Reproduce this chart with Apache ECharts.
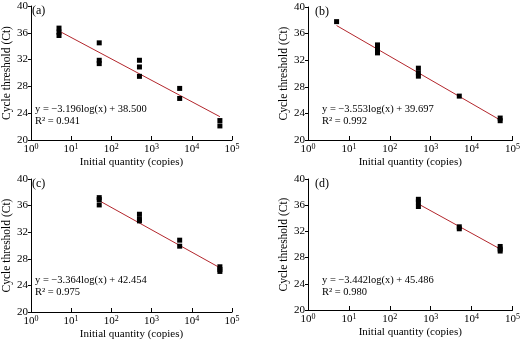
<!DOCTYPE html>
<html><head><meta charset="utf-8">
<script src="https://cdn.jsdelivr.net/npm/echarts@6/dist/echarts.min.js"></script>
<style>html,body{margin:0;padding:0;background:#fff}#c{width:523px;height:341px}</style>
</head><body><div id="c"></div>
<script>
// Data
var xTickLabels = ['10^0','10^1','10^2','10^3','10^4','10^5'];
var yTicks = [20, 24, 28, 32, 36, 40];
var ptsA = [[5,36.7],[5,36.1],[5,35.6],[50,34.5],[50,31.9],[50,31.4],[500,31.9],[500,30.9],[500,29.5],[5000,27.7],[5000,26.2],[50000,22.9],[50000,22.1]];
var ptsB = [[5,37.8],[50,34.3],[50,33.7],[50,33.1],[500,30.8],[500,30.1],[500,29.6],[5000,26.6],[50000,23.3],[50000,22.9]];
var ptsC = [[50,37.2],[50,36.9],[50,36.1],[500,34.7],[500,34.0],[500,33.7],[5000,30.8],[5000,29.9],[50000,26.8],[50000,26.4],[50000,26.1]];
var ptsD = [[500,36.9],[500,36.5],[500,35.8],[5000,32.7],[5000,32.4],[50000,29.7],[50000,29.3],[50000,29.0]];
var fitA = [[5,36.27],[50000,23.48]];
var fitB = [[5,37.21],[50000,23.00]];
var fitC = [[50,36.74],[50000,26.65]];
var fitD = [[500,36.19],[50000,29.31]];
var eqs = [
  ['y = \u22123.196log(x) + 38.500','R\u00b2 = 0.941'],
  ['y = \u22123.553log(x) + 39.697','R\u00b2 = 0.992'],
  ['y = \u22123.364log(x) + 42.454','R\u00b2 = 0.975'],
  ['y = \u22123.442log(x) + 45.486','R\u00b2 = 0.980']
];
var panelLetters = ['(a)','(b)','(c)','(d)'];

var FONT = 'Liberation Serif';
var grids = [
  {left:25, top:6, width:207, height:134},
  {left:308, top:7, width:209, height:133},
  {left:25, top:179, width:207, height:133},
  {left:308, top:179, width:209, height:131}
];
var xAxes = [], yAxes = [], series = [], graphic = [];
var pts = [ptsA, ptsB, ptsC, ptsD];
var fits = [fitA, fitB, fitC, fitD];
grids.forEach(function(g, i){
  xAxes.push({
    gridIndex:i, type:'log', logBase:10, min:1, max:100000,
    name:'Initial quantity (copies)', nameLocation:'middle', nameGap:17,
    nameTextStyle:{fontFamily:FONT, fontSize:11, color:'#000'},
    axisLine:{lineStyle:{color:'#000', width:1}},
    axisTick:{inside:true, length:4, lineStyle:{color:'#000'}},
    minorTick:{show:false}, splitLine:{show:false},
    axisLabel:{fontFamily:FONT, fontSize:11, color:'#000', margin:3,
      formatter:function(v){ var e = Math.round(Math.log10(v)); var lbl = xTickLabels[e] || ''; var p = lbl.split('^'); return '{b|' + p[0] + '}{s|' + p[1] + '}'; },
      rich:{b:{fontFamily:FONT, fontSize:11, color:'#000', lineHeight:12}, s:{fontFamily:FONT, fontSize:8, color:'#000', verticalAlign:'top', lineHeight:12}}
    }
  });
  yAxes.push({
    gridIndex:i, type:'value', min:yTicks[0], max:yTicks[yTicks.length-1], interval:4,
    name:'Cycle threshold (Ct)', nameLocation:'middle', nameGap:13,
    nameTextStyle:{fontFamily:FONT, fontSize:11.5, color:'#000'},
    axisLine:{show:true, lineStyle:{color:'#000', width:1}},
    axisTick:{show:true, inside:false, length:3, lineStyle:{color:'#000'}},
    splitLine:{show:false},
    axisLabel:{fontFamily:FONT, fontSize:11, color:'#000', margin:3}
  });
  series.push({
    type:'line', xAxisIndex:i, yAxisIndex:i, data:fits[i], symbol:'none',
    lineStyle:{color:'#b3262c', width:1}, silent:true, z:2
  });
  series.push({
    type:'scatter', xAxisIndex:i, yAxisIndex:i, data:pts[i], symbol:'rect', symbolSize:5,
    itemStyle:{color:'#000', opacity:1}, z:3
  });
  graphic.push({type:'text', left:g.left+7, top:g.top-1, style:{text:panelLetters[i], font:'12px ' + FONT, fill:'#000'}});
  var ex = (i % 2 === 0) ? 35 : 322;
  var ey = (i < 2) ? 103 : 274;
  graphic.push({type:'text', left:ex, top:ey, style:{text:eqs[i][0] + '\n' + eqs[i][1], font:'10.5px ' + FONT, fill:'#000', lineHeight:12}});
});

var chart = echarts.init(document.getElementById('c'), null, {renderer:'canvas'});
chart.setOption({
  animation:false,
  backgroundColor:'#fff',
  grid:grids,
  xAxis:xAxes, yAxis:yAxes, series:series, graphic:graphic
});
</script></body></html>
